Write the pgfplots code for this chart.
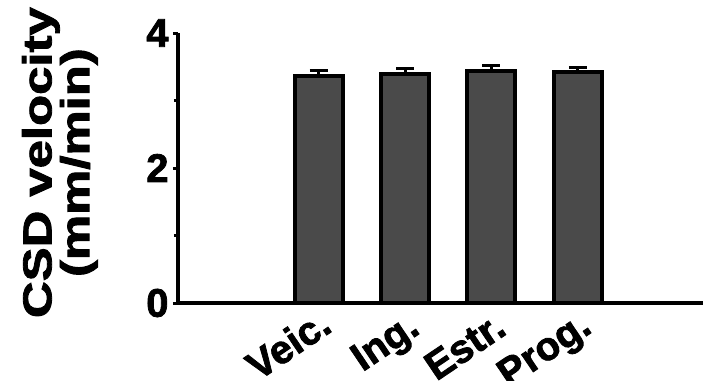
\documentclass[border=0pt]{standalone}
\usepackage{fontspec}
\setmainfont{Liberation Sans}[BoldFeatures={FakeBold=2}]
\usepackage{graphicx}
\usepackage{pgfplots}
\pgfplotsset{compat=1.18}
\definecolor{barfill}{RGB}{74,74,74}
\newcommand\lab[3]{\raisebox{#2bp}{#3}\hspace{#1bp}}
\begin{document}
\begin{tikzpicture}
\begin{axis}[
  scale only axis, width=525bp, height=270bp,
  xmin=-1.63, xmax=4.45, ymin=0, ymax=4,
  enlargelimits=false,
  axis x line*=bottom, axis y line*=left,
  axis line style={line width=3.5bp, black},
  ytick={0,2,4}, minor ytick={1,3},
  tick align=outside,
  major tick length=5bp, minor tick length=4bp,
  every tick/.style={line width=3bp, black},
  xtick={0,1,2,3},
  xticklabels={\lab{3.1}{-26.9}{Veic.},\lab{6.5}{-29.4}{Ing.},\lab{-0.1}{-30.2}{Estr.},\lab{-9.4}{-28.1}{Prog.}},
  xtick style={draw=none},
  /pgf/number format/assume math mode=true,
  yticklabel style={font=\fontsize{40}{40}\selectfont\bfseries, xshift=-1bp},
  xticklabel style={font=\fontsize{40}{40}\selectfont\bfseries, inner sep=0pt, anchor=base east, rotate=34},
  ylabel={\scalebox{1.26}[1]{CSD velocity}\\\scalebox{1.26}[1]{(mm/min)}},
  ylabel style={font=\fontsize{40.5}{38}\selectfont\bfseries, align=center, rotate=0, anchor=center, at={(axis description cs:-0.225,0.52)}},
  ybar, bar width=48bp,
]
\addplot[draw=black, line width=4bp, fill=barfill,
  error bars/.cd, y dir=plus, y explicit,
  error bar style={line width=3bp, black},
  error mark options={rotate=90, mark size=9bp, line width=3bp, black}]
  coordinates {(0,3.37) +- (0,0.07) (1,3.40) +- (0,0.07) (2,3.44) +- (0,0.08) (3,3.42) +- (0,0.07)};
\end{axis}
\pgfresetboundingbox
\path[use as bounding box] (current axis.south west) ++(-178bp,-78bp) rectangle ++(703bp,381bp);
\end{tikzpicture}
\end{document}
